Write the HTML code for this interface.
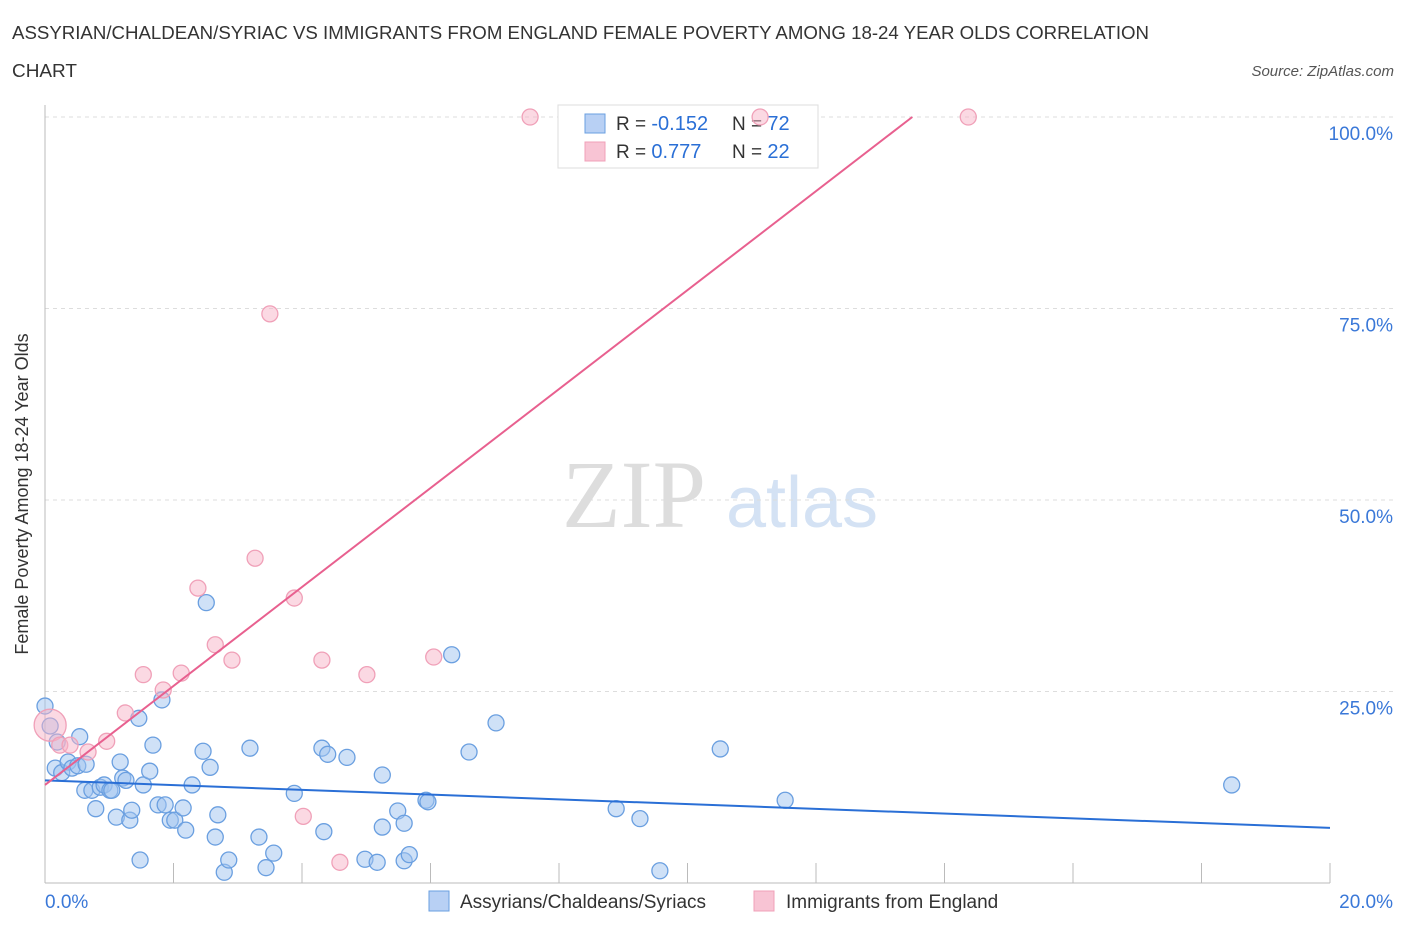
<!DOCTYPE html>
<html><head><meta charset="utf-8"><style>
body{margin:0;background:#fff;font-family:"Liberation Sans",sans-serif}
#wrap{position:relative;width:1406px;height:930px;overflow:hidden}
</style></head><body>
<div id="wrap">
<svg id="svg" width="1406" height="930" xmlns="http://www.w3.org/2000/svg">
<text x="12" y="39" font-size="18" fill="#333" textLength="1137" lengthAdjust="spacingAndGlyphs">ASSYRIAN/CHALDEAN/SYRIAC VS IMMIGRANTS FROM ENGLAND FEMALE POVERTY AMONG 18-24 YEAR OLDS CORRELATION</text>
<text x="12" y="77" font-size="18" fill="#333" textLength="65" lengthAdjust="spacingAndGlyphs">CHART</text>
<text x="1394" y="76" font-size="15" fill="#555" font-style="italic" text-anchor="end">Source: ZipAtlas.com</text>
<text x="28" y="494" font-size="18" fill="#333" text-anchor="middle" transform="rotate(-90 28 494)">Female Poverty Among 18-24 Year Olds</text>
<text x="634" y="527" font-size="96" fill="#ddd" font-family="Liberation Serif,serif" text-anchor="middle">ZIP</text>
<text x="802" y="527" font-size="72" fill="#d4e2f4" text-anchor="middle">atlas</text>
<g id="grid"></g>
<g>
<rect x="558" y="105" width="260" height="63" fill="#fff" stroke="#ddd"/>
<rect x="585" y="114" width="20" height="19" fill="#b8d0f4" stroke="#6a9fe0"/>
<rect x="585" y="142" width="20" height="19" fill="#f8c4d4" stroke="#f0a0b8"/>
<text x="616" y="130" font-size="19" fill="#333">R = <tspan fill="#2a6fd6" font-size="20">-0.152</tspan></text>
<text x="732" y="130" font-size="19" fill="#333">N = <tspan fill="#2a6fd6" font-size="20">72</tspan></text>
<text x="616" y="158" font-size="19" fill="#333">R = <tspan fill="#2a6fd6" font-size="20"> 0.777</tspan></text>
<text x="732" y="158" font-size="19" fill="#333">N = <tspan fill="#2a6fd6" font-size="20">22</tspan></text>
</g>
<g id="pts"></g><g id="lines"></g>
<g>
<rect x="429" y="891" width="20" height="20" fill="#b8d0f4" stroke="#6a9fe0"/>
<text x="460" y="908" font-size="19" fill="#333">Assyrians/Chaldeans/Syriacs</text>
<rect x="754" y="891" width="20" height="20" fill="#f8c4d4" stroke="#f0a0b8"/>
<text x="786" y="908" font-size="19" fill="#333">Immigrants from England</text>
</g>
</svg></div>
<script>
const yTicks=[25,50,75,100];
const yTickLabels=["25.0%","50.0%","75.0%","100.0%"];
const xTickLabels=["0.0%","20.0%"];
const blueX=[0,.08,.19,.16,.26,.36,.42,.51,.54,.64,.62,.73,.79,.86,.92,1.01,1.04,1.11,1.17,1.21,1.26,1.32,1.35,1.48,1.46,1.53,1.63,1.68,1.76,1.87,1.82,1.95,2.02,2.15,2.19,2.29,2.46,2.51,2.57,2.65,2.69,2.79,2.86,3.19,3.33,3.44,3.56,3.88,4.31,4.34,4.40,4.70,4.98,5.17,5.25,5.25,5.49,5.59,5.59,5.67,5.93,5.96,6.33,6.60,7.02,8.89,9.26,9.57,10.51,11.52,18.47];
const blueY=[23.1,20.5,18.4,15.0,14.4,15.8,15.0,15.3,19.1,15.5,12.1,12.1,9.7,12.5,12.8,12.1,12.1,8.6,15.8,13.7,13.4,8.2,9.5,3.0,21.5,12.8,14.6,18.0,10.2,10.2,23.9,8.2,8.2,9.8,6.9,12.8,17.2,36.6,15.1,6.0,8.9,1.4,3.0,17.6,6.0,2.0,3.9,11.7,17.6,6.7,16.8,16.4,3.1,2.7,7.3,14.1,9.4,7.8,2.9,3.7,10.8,10.6,29.8,17.1,20.9,9.7,8.4,1.6,17.5,10.8,12.8];
const pinkX=[.08,.23,.39,.67,.96,1.25,1.53,1.84,2.12,2.38,2.65,2.91,3.27,3.50,3.88,4.02,4.31,4.59,5.01,6.05,7.55,11.13,14.37];
const pinkY=[20.6,18.0,18.0,17.1,18.5,22.2,27.2,25.2,27.4,38.5,31.1,29.1,42.4,74.3,37.2,8.7,29.1,2.7,27.2,29.5,100,100,100];
const blueTrend=[13.4,7.2];
const pinkTrend=[12.8,6.46];
const NS="http://www.w3.org/2000/svg";
const X=v=>45+v*64.25, Y=v=>883-v*7.66;
function mk(t,a,p){const e=document.createElementNS(NS,t);for(const k in a)e.setAttribute(k,a[k]);p.appendChild(e);return e;}
const g=document.getElementById('grid');
yTicks.forEach((t,i)=>{
 const l=mk('line',{x1:45,x2:1395,y1:Y(t),y2:Y(t),stroke:'#ddd','stroke-dasharray':'4,4'},g);
 
 
 const tx=mk('text',{x:1393,y:Y(t)+23,'font-size':19,fill:'#3a78d8','text-anchor':'end'},g);tx.textContent=yTickLabels[i];
 
 
});
mk('line',{x1:45,x2:45,y1:105,y2:883,stroke:'#bbb'},g);
mk('line',{x1:45,x2:1330,y1:883,y2:883,stroke:'#bbb'},g);
for(let i=0;i<=10;i++){mk('line',{x1:X(i*2),x2:X(i*2),y1:863,y2:883,stroke:'#bbb'},g);}
const t0=mk('text',{x:45,y:908,'font-size':19,fill:'#3a78d8'},g);t0.textContent=xTickLabels[0];


const t1=mk('text',{x:1393,y:908,'font-size':19,fill:'#3a78d8','text-anchor':'end'},g);t1.textContent=xTickLabels[1];


const p=document.getElementById('pts');
blueX.forEach((x,i)=>{const c=mk('circle',{cx:X(x),cy:Y(blueY[i]),r:8,fill:'rgba(160,196,240,0.5)',stroke:'#6a9fe0','stroke-width':1.3},p);
 
 });
pinkX.forEach((x,i)=>{const c=mk('circle',{cx:X(x),cy:Y(pinkY[i]),r:i==0?16:8,fill:'rgba(248,180,200,0.5)',stroke:'#f0a0b8','stroke-width':1.3},p);
 
 });
const L=document.getElementById('lines');
const bl=mk('line',{x1:X(0),y1:Y(blueTrend[0]),x2:X(20),y2:Y(blueTrend[1]),stroke:'#2a6fd6','stroke-width':2},L);


const xe=(100-pinkTrend[0])/pinkTrend[1];
const pl=mk('line',{x1:X(0),y1:Y(pinkTrend[0]),x2:X(xe),y2:Y(100),stroke:'#e8608f','stroke-width':2},L);


</script>
</body></html>
